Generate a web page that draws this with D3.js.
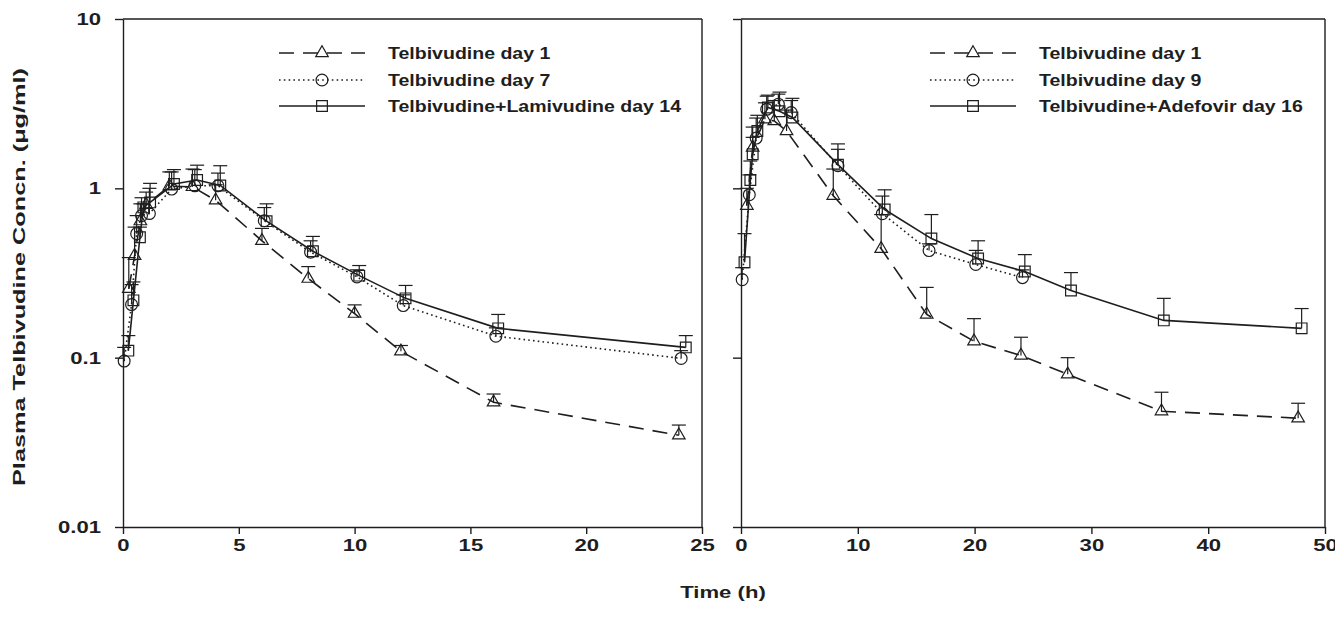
<!DOCTYPE html>
<html>
<head>
<meta charset="utf-8">
<script src="https://cdn.jsdelivr.net/npm/d3@7"></script>
<style>
  body { margin: 0; background: #fff; }
  text { font-family: "Liberation Sans", Arial, sans-serif; font-weight: bold; fill: #1e1e1e; }
</style>
</head>
<body>
<div id="chart"></div>
<script>
// ---- left panel: telbivudine alone (day 1, day 7) and + lamivudine (day 14)
var timeD1L  = [0.25, 0.5, 0.75, 1, 2, 3, 4, 6, 8, 10, 12, 16, 24];
var concD1L  = [0.255, 0.40, 0.64, 0.80, 1.03, 1.02, 0.85, 0.49, 0.293, 0.182, 0.109, 0.0545, 0.0348];
var upD1L    = [0.39, 0.59, 0.81, 0.95, 1.25, 1.30, 1.05, 0.58, 0.345, 0.205, 0.118, 0.061, 0.040];

var timeD7L  = [0.05, 0.37, 0.59, 0.8, 1.14, 2.1, 3.1, 4.1, 6.1, 8.1, 10.1, 12.1, 16.1, 24.1];
var concD7L  = [0.0955, 0.206, 0.54, 0.69, 0.71, 0.99, 1.035, 1.035, 0.644, 0.42, 0.30, 0.203, 0.134, 0.099];
var upD7L    = [0.115, 0.27, 0.69, 0.88, 1.00, 1.25, 1.29, 1.23, 0.77, 0.49, 0.33, 0.235, 0.15, 0.11];

var timeD14L = [0.23, 0.45, 0.73, 0.88, 1.17, 2.2, 3.2, 4.2, 6.2, 8.2, 10.2, 12.2, 16.2, 24.3];
var concD14L = [0.11, 0.218, 0.514, 0.772, 0.826, 1.06, 1.12, 1.04, 0.64, 0.425, 0.305, 0.224, 0.149, 0.115];
var upD14L   = [0.135, 0.28, 0.59, 0.81, 1.07, 1.29, 1.37, 1.36, 0.81, 0.52, 0.35, 0.267, 0.18, 0.135];

// ---- right panel: telbivudine alone (day 1, day 9) and + adefovir (day 16)
var timeD1R  = [0.5, 1, 2.05, 2.85, 3.9, 7.9, 12, 15.9, 19.95, 23.97, 27.97, 36, 47.7];
var concD1R  = [0.79, 1.74, 2.56, 2.50, 2.18, 0.905, 0.44, 0.18, 0.125, 0.103, 0.0797, 0.0483, 0.0439];
var upD1R    = [1.0, 2.3, 3.2, 3.3, 2.9, 1.3, 0.70, 0.26, 0.17, 0.132, 0.10, 0.0625, 0.0538];

var timeD9R  = [0.1, 0.71, 1.3, 2.2, 3.2, 4.3, 8.3, 12.1, 16.1, 20.1, 24.1];
var concD9R  = [0.289, 0.917, 1.98, 2.93, 3.14, 2.80, 1.36, 0.709, 0.429, 0.355, 0.297];
var upD9R    = [0.34, 1.2, 2.6, 3.5, 3.6, 3.3, 1.70, 0.90, 0.47, 0.43, 0.33];

var timeD16R = [0.3, 0.8, 1.0, 1.4, 2.3, 3.3, 4.4, 8.3, 12.3, 16.3, 20.3, 24.3, 28.25, 36.2, 48];
var concD16R = [0.366, 1.12, 1.59, 2.18, 3.0, 2.85, 2.62, 1.38, 0.75, 0.505, 0.385, 0.323, 0.249, 0.166, 0.149];
var upD16R   = [0.54, 1.45, 2.0, 2.7, 3.55, 3.7, 3.4, 1.83, 0.98, 0.70, 0.49, 0.406, 0.318, 0.224, 0.195];

var legendL = ["Telbivudine day 1", "Telbivudine day 7", "Telbivudine+Lamivudine day 14"];
var legendR = ["Telbivudine day 1", "Telbivudine day 9", "Telbivudine+Adefovir day 16"];
var yTicks  = [10, 1, 0.1, 0.01];
var xTicksL = [0, 5, 10, 15, 20, 25];
var xTicksR = [0, 10, 20, 30, 40, 50];

var ink = "#1e1e1e";
var W = 1335, H = 631;
var yTop = 19, yBottom = 527;

var svg = d3.select("#chart").append("svg")
  .attr("width", W)
  .attr("height", H);

var y = d3.scaleLog().domain([0.01, 10]).range([yBottom, yTop]);

// text in the picture is rendered wide, so stretch it horizontally
var stretch = function(sel, k) {
  sel.each(function() {
    var w = this.getComputedTextLength();
    d3.select(this).attr("textLength", w * k).attr("lengthAdjust", "spacingAndGlyphs");
  });
};

var symbolPath = {
  tri: d3.symbol(d3.symbolTriangle, 68)(),
  circ: d3.symbol(d3.symbolCircle, 110)(),
  sq: d3.symbol(d3.symbolSquare, 115)()
};
var dashes = { tri: "15,9", circ: "1.6,3.2", sq: null };

var zip = function(t, v, u) {
  return t.map(function(d, i) { return { t: d, v: v[i], up: u[i] }; });
};

var drawPanel = function(x0, x1, xMax, xTicks, showYLabels, series, names, legX) {
  var x = d3.scaleLinear().domain([0, xMax]).range([x0, x1]);
  var g = svg.append("g");

  // frame: top and right borders
  g.append("line").attr("x1", x0).attr("x2", x1).attr("y1", yTop).attr("y2", yTop)
    .attr("stroke", ink).attr("stroke-width", 1.4);
  g.append("line").attr("x1", x1).attr("x2", x1).attr("y1", yTop).attr("y2", yBottom)
    .attr("stroke", ink).attr("stroke-width", 1.4);

  var ya = g.append("g").attr("transform", "translate(" + x0 + ",0)")
    .call(d3.axisLeft(y).tickValues(yTicks).tickSize(8).tickSizeOuter(0).tickPadding(14)
      .tickFormat(showYLabels ? function(d) { return d >= 1 ? d3.format("d")(d) : String(d); } : ""));
  var xa = g.append("g").attr("transform", "translate(0," + yBottom + ")")
    .call(d3.axisBottom(x).tickValues(xTicks).tickSize(7).tickSizeOuter(0).tickPadding(5));

  [ya, xa].forEach(function(a) {
    a.selectAll("path, line").attr("stroke", ink).attr("stroke-width", 1.4);
    a.selectAll("text").style("font-size", "17px").attr("fill", ink);
    stretch(a.selectAll("text"), 1.3);
  });

  var line = d3.line().x(function(d) { return x(d.t); }).y(function(d) { return y(d.v); });

  series.forEach(function(s) {
    var pts = zip(s.t, s.v, s.up);
    // error bars (mean + SD)
    var eb = g.append("g").attr("stroke", ink).attr("stroke-width", 1.2);
    eb.selectAll("line.v").data(pts).enter().append("line")
      .attr("x1", function(d) { return x(d.t); }).attr("x2", function(d) { return x(d.t); })
      .attr("y1", function(d) { return y(d.v); }).attr("y2", function(d) { return y(d.up); });
    eb.selectAll("line.c").data(pts).enter().append("line")
      .attr("x1", function(d) { return x(d.t) - 7; }).attr("x2", function(d) { return x(d.t) + 7; })
      .attr("y1", function(d) { return y(d.up); }).attr("y2", function(d) { return y(d.up); });

    g.append("path").datum(pts)
      .attr("d", line)
      .attr("fill", "none")
      .attr("stroke", ink)
      .attr("stroke-width", 1.6)
      .attr("stroke-dasharray", dashes[s.sym]);

    g.selectAll(null).data(pts).enter().append("path")
      .attr("d", symbolPath[s.sym])
      .attr("transform", function(d) { return "translate(" + x(d.t) + "," + y(d.v) + ")"; })
      .attr("fill", "none")
      .attr("stroke", ink)
      .attr("stroke-width", 1.2);
  });

  // legend
  var rows = [53, 80, 106];
  series.forEach(function(s, i) {
    var ly = rows[i];
    g.append("line").attr("x1", legX).attr("x2", legX + 86).attr("y1", ly).attr("y2", ly)
      .attr("stroke", ink).attr("stroke-width", 1.6).attr("stroke-dasharray", dashes[s.sym]);
    g.append("path").attr("d", symbolPath[s.sym])
      .attr("transform", "translate(" + (legX + 43) + "," + ly + ")")
      .attr("fill", "none").attr("stroke", ink).attr("stroke-width", 1.2);
    var t = g.append("text").attr("x", legX + 109).attr("y", ly + 6)
      .style("font-size", "16px").text(names[i]);
    stretch(t, 1.22);
  });
};

drawPanel(123, 702, 25, xTicksL, true, [
  { t: timeD1L, v: concD1L, up: upD1L, sym: "tri" },
  { t: timeD7L, v: concD7L, up: upD7L, sym: "circ" },
  { t: timeD14L, v: concD14L, up: upD14L, sym: "sq" }
], legendL, 279);

drawPanel(741, 1325, 50, xTicksR, false, [
  { t: timeD1R, v: concD1R, up: upD1R, sym: "tri" },
  { t: timeD9R, v: concD9R, up: upD9R, sym: "circ" },
  { t: timeD16R, v: concD16R, up: upD16R, sym: "sq" }
], legendR, 930);

// axis titles
var xt = svg.append("text").attr("x", 723).attr("y", 598).attr("text-anchor", "middle")
  .style("font-size", "17px").text("Time (h)");
stretch(xt, 1.3);

svg.append("text")
  .attr("transform", "translate(25," + ((yTop + yBottom) / 2 + 4) + ") rotate(-90)")
  .attr("text-anchor", "middle")
  .style("font-size", "17px")
  .attr("textLength", 418).attr("lengthAdjust", "spacingAndGlyphs")
  .text("Plasma Telbivudine Concn. (\u03bcg/ml)");
</script>
</body>
</html>
